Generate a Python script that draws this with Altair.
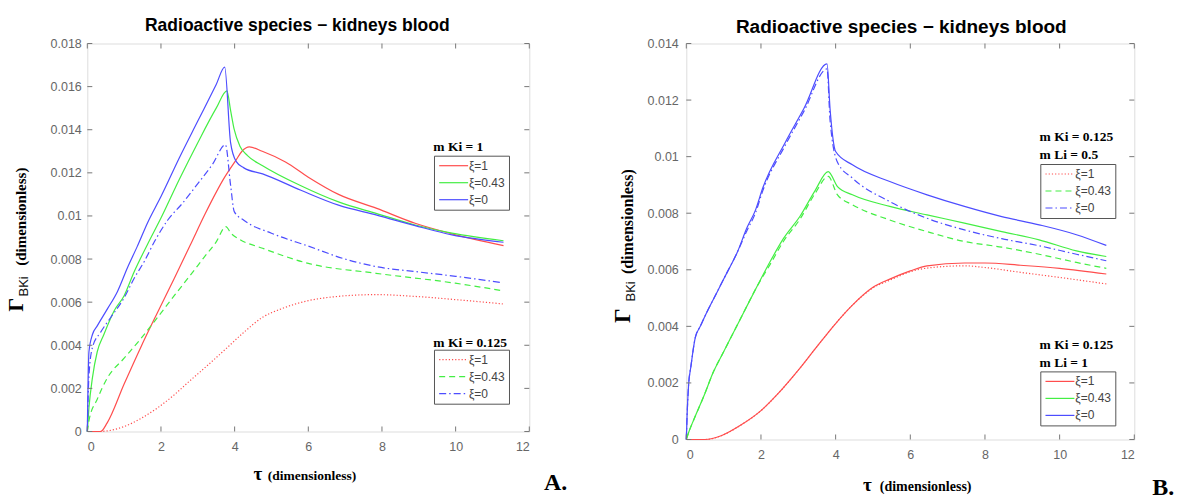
import altair as alt
import pandas as pd

XI_LABELS = ["ξ=1", "ξ=0.43", "ξ=0"]
COLORS = ["#ff4d4d", "#44ee44", "#4d4dff"]
DASHES_A = [[1.2, 2], [6, 4], [7, 3, 1.5, 3]]

TITLE = "Radioactive species − kidneys blood"
X_TICKS = [0, 2, 4, 6, 8, 10, 12]
A_Y_TICKS = [0, 0.002, 0.004, 0.006, 0.008, 0.01, 0.012, 0.014, 0.016, 0.018]
B_Y_TICKS = [0, 0.002, 0.004, 0.006, 0.008, 0.01, 0.012, 0.014]

# ---------------- Panel A : m Ki = 1 (solid) ----------------
A1_T_XI1 = [0, 0.36, 0.54, 1.0, 1.45, 1.9, 2.36, 2.81, 3.2, 3.73, 4.04, 4.2, 4.4, 4.75, 5.38, 6.0, 6.82, 7.86, 8.9, 9.9, 11.3]
A1_V_XI1 = [0, 0, 0.0004, 0.0022, 0.0039, 0.0055, 0.0071, 0.0087, 0.0101, 0.0118, 0.0126, 0.0130, 0.0132, 0.0130, 0.0125, 0.0118, 0.0110, 0.01035, 0.00966, 0.00917, 0.00862]
A1_T_XI043 = [0, 0.045, 0.14, 0.27, 0.45, 0.73, 1.0, 1.27, 1.64, 2.0, 2.5, 3.0, 3.5, 3.79, 3.89, 3.99, 4.14, 4.35, 4.76, 5.8, 6.82, 7.86, 8.9, 9.9, 11.3]
A1_V_XI043 = [0, 0.0011, 0.0025, 0.0037, 0.0045, 0.0056, 0.0063, 0.0074, 0.0087, 0.0099, 0.0117, 0.0134, 0.0150, 0.0158, 0.0149, 0.0140, 0.01325, 0.0128, 0.01233, 0.0114, 0.01065, 0.01011, 0.00958, 0.0092, 0.00885]
A1_T_XI0 = [0, 0.045, 0.14, 0.27, 0.55, 0.82, 1.09, 1.36, 1.64, 2.0, 2.5, 3.0, 3.5, 3.73, 3.89, 4.04, 4.25, 4.76, 5.8, 6.82, 7.86, 8.9, 9.9, 11.3]
A1_V_XI0 = [0, 0.0037, 0.0045, 0.0049, 0.0057, 0.0065, 0.0076, 0.0086, 0.0097, 0.0109, 0.0127, 0.0144, 0.0161, 0.0169, 0.0134, 0.01253, 0.01223, 0.01195, 0.01119, 0.0105, 0.01004, 0.00955, 0.00912, 0.00878]

# ---------------- Panel A : m Ki = 0.125 (dotted / dashed / dash-dot) ----------------
A2_T_XI1 = [0, 0.3, 0.55, 1.0, 1.45, 1.91, 2.36, 2.75, 3.22, 3.74, 4.25, 4.76, 5.28, 6.0, 6.82, 7.84, 8.87, 9.99, 11.28]
A2_V_XI1 = [0, 0, 0.00003, 0.00023, 0.0006, 0.0011, 0.0017, 0.0023, 0.0030, 0.0038, 0.0046, 0.0053, 0.0057, 0.00607, 0.00627, 0.00635, 0.00627, 0.00612, 0.00592]
A2_T_XI043 = [0, 0.045, 0.27, 0.55, 1.0, 1.45, 1.91, 2.36, 2.82, 3.18, 3.5, 3.76, 3.9, 4.15, 4.76, 6.0, 7.84, 9.99, 11.28]
A2_V_XI043 = [0, 0.0005, 0.0015, 0.0025, 0.0034, 0.0043, 0.0053, 0.0063, 0.0073, 0.0081, 0.0088, 0.0095, 0.0092, 0.0089, 0.0085, 0.0078, 0.00734, 0.00688, 0.00653]
A2_T_XI0 = [0, 0.045, 0.14, 0.36, 0.64, 1.0, 1.27, 1.55, 1.82, 2.18, 2.59, 3.0, 3.4, 3.75, 3.89, 3.99, 4.25, 5.0, 6.0, 7.0, 7.84, 9.0, 10.0, 11.28]
A2_V_XI0 = [0, 0.0026, 0.0039, 0.0046, 0.0053, 0.0062, 0.0071, 0.0079, 0.0088, 0.0098, 0.0106, 0.0115, 0.0124, 0.0133, 0.01143, 0.0102, 0.0098, 0.0092, 0.0086, 0.0080, 0.00765, 0.0074, 0.0072, 0.0069]

# ---------------- Panel B : m Ki = 0.125, m Li = 1 (solid) ----------------
B1_T_XI1 = [0, 0.5, 0.95, 1.45, 2.0, 2.45, 3.0, 3.45, 4.0, 4.45, 5.0, 5.45, 6.0, 6.45, 7.45, 8.0, 8.95, 10.0, 11.25]
B1_V_XI1 = [0, 0, 0.00014, 0.0005, 0.00102, 0.00161, 0.00245, 0.0032, 0.0041, 0.00475, 0.00538, 0.00567, 0.00596, 0.00614, 0.00624, 0.00624, 0.00616, 0.00605, 0.00585]
B1_T_XI043 = [0, 0.06, 0.2, 0.46, 0.73, 1.0, 1.27, 1.54, 1.89, 2.25, 2.6, 3.05, 3.45, 3.8, 4.05, 4.45, 5.45, 6.45, 7.45, 8.45, 9.45, 10.45, 11.25]
B1_V_XI043 = [0, 0.00024, 0.0007, 0.0015, 0.0024, 0.0031, 0.0038, 0.0045, 0.0054, 0.0063, 0.0071, 0.0079, 0.0088, 0.00947, 0.00894, 0.00865, 0.00824, 0.00794, 0.00765, 0.00735, 0.00706, 0.00667, 0.00647]
B1_T_XI0 = [0, 0.02, 0.06, 0.125, 0.24, 0.375, 0.55, 0.82, 1.09, 1.36, 1.63, 1.85, 2.05, 2.65, 3.15, 3.77, 3.85, 4.0, 4.45, 5.45, 6.45, 7.45, 8.45, 9.45, 10.45, 11.25]
B1_V_XI0 = [0, 0.0008, 0.0019, 0.0026, 0.0036, 0.0040, 0.0045, 0.0052, 0.0059, 0.0066, 0.0075, 0.0081, 0.0089, 0.0105, 0.0117, 0.01328, 0.0117, 0.01018, 0.00971, 0.00912, 0.00865, 0.00824, 0.00788, 0.00759, 0.00724, 0.00686]

# ---------------- Panel B : m Ki = 0.125, m Li = 0.5 (dotted / dashed / dash-dot) ----------------
B2_T_XI1 = [0, 0.5, 0.95, 1.45, 2.0, 2.45, 3.0, 3.45, 4.0, 4.45, 5.0, 5.45, 6.0, 6.45, 7.45, 8.0, 8.95, 10.0, 11.25]
B2_V_XI1 = [0, 0, 0.00014, 0.0005, 0.00102, 0.00161, 0.00245, 0.0032, 0.0041, 0.00475, 0.00536, 0.00563, 0.00593, 0.00606, 0.00614, 0.00608, 0.00591, 0.00573, 0.0055]
B2_T_XI043 = [0, 0.06, 0.2, 0.46, 0.73, 1.0, 1.27, 1.54, 1.89, 2.25, 2.6, 3.05, 3.45, 3.8, 4.05, 4.45, 5.45, 6.45, 7.45, 8.45, 9.45, 10.45, 11.25]
B2_V_XI043 = [0, 0.00024, 0.0007, 0.0015, 0.0024, 0.0031, 0.0038, 0.0045, 0.0054, 0.0062, 0.0070, 0.0078, 0.0087, 0.0093, 0.00865, 0.0083, 0.00776, 0.00735, 0.0070, 0.0068, 0.00655, 0.00626, 0.00605]
B2_T_XI0 = [0, 0.02, 0.06, 0.125, 0.24, 0.375, 0.55, 0.82, 1.09, 1.36, 1.63, 1.85, 2.05, 2.65, 3.15, 3.77, 3.85, 4.05, 4.45, 5.45, 6.45, 7.45, 8.45, 9.45, 10.45, 11.25]
B2_V_XI0 = [0, 0.0008, 0.0019, 0.0026, 0.0036, 0.0040, 0.0045, 0.0052, 0.0059, 0.0066, 0.0074, 0.0080, 0.0088, 0.0104, 0.0116, 0.0131, 0.0113, 0.0098, 0.00924, 0.00841, 0.00782, 0.00741, 0.0071, 0.00685, 0.00655, 0.00632]

SERIES = [
    ("A", "g1", "ξ=1", A1_T_XI1, A1_V_XI1),
    ("A", "g1", "ξ=0.43", A1_T_XI043, A1_V_XI043),
    ("A", "g1", "ξ=0", A1_T_XI0, A1_V_XI0),
    ("A", "g2", "ξ=1", A2_T_XI1, A2_V_XI1),
    ("A", "g2", "ξ=0.43", A2_T_XI043, A2_V_XI043),
    ("A", "g2", "ξ=0", A2_T_XI0, A2_V_XI0),
    ("B", "g1", "ξ=1", B1_T_XI1, B1_V_XI1),
    ("B", "g1", "ξ=0.43", B1_T_XI043, B1_V_XI043),
    ("B", "g1", "ξ=0", B1_T_XI0, B1_V_XI0),
    ("B", "g2", "ξ=1", B2_T_XI1, B2_V_XI1),
    ("B", "g2", "ξ=0.43", B2_T_XI043, B2_V_XI043),
    ("B", "g2", "ξ=0", B2_T_XI0, B2_V_XI0),
]

rows = []
for panel, group, xi, ts, vs in SERIES:
    for i, (t, v) in enumerate(zip(ts, vs)):
        rows.append({"panel": panel, "group": group, "xi": xi, "t": t, "v": v, "idx": i})
df = pd.DataFrame(rows)

SERIF = "Liberation Serif"
SANS = "Liberation Sans"
FRAME = "#777777"
ONE = pd.DataFrame({"k": [0]})
LEGEND_LINE = "M-1,0H5"


def x_enc(field):
    return alt.X(field, type="quantitative", scale=alt.Scale(domain=[0, 12], nice=False, zero=False),
                 axis=alt.Axis(values=X_TICKS, format="d", title=None, grid=False, domain=False,
                               ticks=False, tickSize=0, labelFont=SANS, labelFontSize=12.5,
                               labelColor="#666666", labelPadding=9))


def y_enc(field, ymax, yticks, pad):
    return alt.Y(field, type="quantitative", scale=alt.Scale(domain=[0, ymax], nice=False),
                 axis=alt.Axis(values=yticks, format="~g", title=None, grid=False, domain=False,
                               ticks=False, tickSize=0, labelFont=SANS, labelFontSize=12.5,
                               labelColor="#666666", labelPadding=pad))


def legend(lx, ly):
    return alt.Legend(orient="none", legendX=lx, legendY=ly, title=None, direction="vertical",
                      symbolType=LEGEND_LINE, symbolSize=93, symbolStrokeWidth=1.2,
                      labelFont=SANS, labelFontSize=12, labelColor="#444444", labelOffset=19,
                      padding=4, rowPadding=5, strokeColor="#555555", fillColor="white",
                      labelLimit=200)


def text(s, x, y, size, font=SERIF, weight="bold", angle=0, align="center", baseline="middle",
         color="black"):
    return alt.Chart(ONE).mark_text(text=s, font=font, fontSize=size, fontWeight=weight, angle=angle,
                                    align=align, baseline=baseline, color=color).encode(
        x=alt.value(x), y=alt.value(y))


def panel(name, w, h, ymax, yticks, ypad, leg_solid, leg_dashed, texts, title_size, title_offset, title_dx):
    d = df[df.panel == name]
    solid = alt.Chart(d[d.group == "g1"]).mark_line(strokeWidth=1.2, interpolate="monotone").encode(
        x=x_enc("t"), y=y_enc("v", ymax, yticks, ypad),
        color=alt.Color("xi:N", scale=alt.Scale(domain=XI_LABELS, range=COLORS), sort=XI_LABELS,
                        legend=legend(*leg_solid)),
        order="idx:Q",
    )
    dashed = alt.Chart(d[d.group == "g2"]).mark_line(strokeWidth=1.2, interpolate="monotone").encode(
        x=x_enc("t"), y=y_enc("v", ymax, yticks, ypad),
        color=alt.Color("xi:N", scale=alt.Scale(domain=XI_LABELS, range=COLORS), sort=XI_LABELS,
                        legend=legend(*leg_dashed)),
        strokeDash=alt.StrokeDash("xi:N", scale=alt.Scale(domain=XI_LABELS, range=DASHES_A),
                                  sort=XI_LABELS, legend=legend(*leg_dashed)),
        order="idx:Q",
    )
    xt = pd.DataFrame({"tick": X_TICKS})
    yt = pd.DataFrame({"tick": yticks})
    tick_len = 5
    tb = alt.Chart(xt).mark_rule(color=FRAME, strokeWidth=1).encode(
        x=x_enc("tick"), y=alt.value(h), y2=alt.value(h - tick_len))
    tt = alt.Chart(xt).mark_rule(color=FRAME, strokeWidth=1).encode(
        x=x_enc("tick"), y=alt.value(0), y2=alt.value(tick_len))
    tl = alt.Chart(yt).mark_rule(color=FRAME, strokeWidth=1).encode(
        y=y_enc("tick", ymax, yticks, ypad), x=alt.value(0), x2=alt.value(tick_len))
    tr = alt.Chart(yt).mark_rule(color=FRAME, strokeWidth=1).encode(
        y=y_enc("tick", ymax, yticks, ypad), x=alt.value(w - tick_len), x2=alt.value(w))
    layers = [solid, dashed, tb, tt, tl, tr] + texts
    return alt.layer(*layers).resolve_scale(color="independent", strokeDash="independent").properties(
        width=w, height=h,
        title=alt.TitleParams(TITLE, font=SANS, fontSize=title_size, fontWeight="bold", color="black",
                              anchor="middle", frame="group", offset=title_offset, dx=title_dx),
    )


A_texts = [
    text("Γ", -70.8, 261.2, 22, angle=270),
    text("BKi", -62.8, 242.9, 13, font=SANS, weight="normal", angle=270, color="#111111"),
    text("(dimensionless)", -66.3, 173.2, 15, angle=270),
    text("τ", 170.7, 436.2, 19, baseline="alphabetic"),
    text("(dimensionless)", 180.5, 436.2, 13.5, align="left", baseline="alphabetic"),
    text("A.", 456.7, 446.2, 24, align="left", baseline="alphabetic"),
    text("m Ki = 1", 346, 107.2, 13.5, align="left", baseline="alphabetic"),
    text("m Ki = 0.125", 346, 303.2, 13.5, align="left", baseline="alphabetic"),
]
B_texts = [
    text("Γ", -63, 272.2, 23, angle=270),
    text("BKi", -55, 247.9, 13, font=SANS, weight="normal", angle=270, color="#111111"),
    text("(dimensionless)", -58, 178.2, 16, angle=270),
    text("τ", 181, 447.2, 19, baseline="alphabetic"),
    text("(dimensionless)", 193.5, 447.2, 14, align="left", baseline="alphabetic"),
    text("B.", 466, 456.2, 24, align="left", baseline="bottom"),
    text("m Ki = 0.125", 353.3, 97.4, 13.5, align="left", baseline="alphabetic"),
    text("m Li = 0.5", 353.3, 115, 13.5, align="left", baseline="alphabetic"),
    text("m Ki = 0.125", 353.3, 305.7, 13.5, align="left", baseline="alphabetic"),
    text("m Li = 1", 353.3, 324, 13.5, align="left", baseline="alphabetic"),
]

panelA = panel("A", 442, 388, 0.018, A_Y_TICKS, 6, (346.7, 112.2), (346.7, 306.2), A_texts, 17.5, 3.5, -11)
panelB = panel("B", 448, 396, 0.014, B_Y_TICKS, 8, (354, 327.9), (354, 120.5), B_texts, 19, 1, -9)

chart = alt.hconcat(panelA, panelB, spacing=43, bounds="full").properties(
    padding={"left": 4.3, "top": 15.5, "right": 0, "bottom": 0}
).configure_view(stroke=FRAME, strokeWidth=1).configure(background="white")

chart.save("out.html", embed_options={"renderer": "svg", "actions": False})
